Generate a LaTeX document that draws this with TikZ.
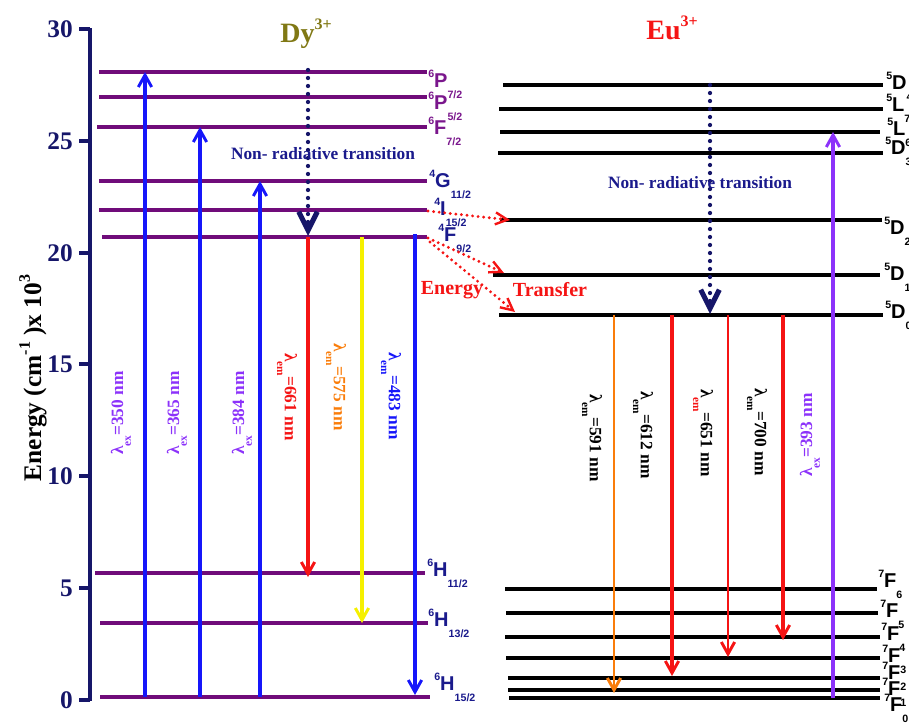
\documentclass[tikz,border=0pt]{standalone}
\usepackage{fontspec}
\setmainfont{Liberation Serif}
\setsansfont{Liberation Sans}
\usetikzlibrary{arrows.meta}
\definecolor{dyLevel}{RGB}{112,12,122}
\definecolor{dyTerm}{RGB}{122,22,140}
\definecolor{navyTerm}{RGB}{26,26,140}
\definecolor{axisNavy}{RGB}{22,22,105}
\definecolor{exBlue}{RGB}{22,22,250}
\definecolor{exViolet}{RGB}{140,50,250}
\definecolor{emRed}{RGB}{245,20,20}
\definecolor{emYellow}{RGB}{245,240,0}
\definecolor{emOrange}{RGB}{250,125,10}
\definecolor{dyOlive}{RGB}{128,120,20}
% term symbol  ^{2S+1}L_{J}
\newcommand{\termsym}[3]{{\sffamily\bfseries\fontsize{15}{15}\selectfont
  \raisebox{0.5em}{\fontsize{8}{8}\selectfont#1}#2\raisebox{-0.55em}{\fontsize{8}{8}\selectfont#3}}}
% wavelength label  lambda_{ex/em}=... nm
\newcommand{\wavelen}[2]{λ\raisebox{-0.45em}{\fontsize{8.5}{9}\selectfont#1}=#2 nm}
\begin{document}
\begin{tikzpicture}
% level scheme drawn on the pixel grid of the source figure
\def\pxsz{0.75pt}
\providecommand{\levelWidth}{2.4pt}
\providecommand{\arrowWidth}{2.6pt}
\begin{scope}[x=\pxsz, y=-\pxsz,
  dylevel/.style={draw=dyLevel, line width=\levelWidth},
  eulevel/.style={draw=black, line width=2.7pt},
  radiative/.style={line width=\arrowWidth, -{Straight Barb[length=9pt,width=10pt,line width=2.2pt]}},
  nonrad/.style={draw=axisNavy, line width=3.2pt, line cap=round, dash pattern=on 0pt off 6pt,
    -{Straight Barb[length=14pt,width=14pt,line width=3.8pt]}},
  etransfer/.style={draw=emRed, line width=2.4pt, line cap=round, dash pattern=on 0pt off 4.2pt,
    -{Straight Barb[length=9pt,width=9pt,line width=1.8pt]}},
  term/.style={anchor=base west, inner sep=0pt},
  wave/.style={inner sep=0pt, font=\fontsize{13}{13}\selectfont\bfseries},
  ticklabel/.style={anchor=east, inner sep=0pt, text=axisNavy, font=\fontsize{19}{19}\selectfont\bfseries}]
  \useasboundingbox (0,0) rectangle (909,726);
  \clip (0,0) rectangle (909,726);
  % Energy axis
  \begin{scope}[draw=axisNavy, line width=3.2pt]
    \draw (90,28) -- (90,701);
    \draw (79,29) -- (90,29);
    \draw (79,141) -- (90,141);
    \draw (79,253) -- (90,253);
    \draw (79,364) -- (90,364);
    \draw (79,476) -- (90,476);
    \draw (79,588) -- (90,588);
    \draw (79,700) -- (90,700);
  \end{scope}
  \node[ticklabel] (t30) at (73,29) {30};
  \node[ticklabel] (t25) at (73,141) {25};
  \node[ticklabel] (t20) at (73,253) {20};
  \node[ticklabel] (t15) at (73,364) {15};
  \node[ticklabel] (t10) at (73,476) {10};
  \node[ticklabel] (t5) at (73,588) {5};
  \node[ticklabel] (t0) at (73,700) {0};
  \node[rotate=90, inner sep=0pt, font=\fontsize{19}{19}\selectfont\bfseries] (ylab) at (33,378)
    {Energy (cm\raisebox{0.45em}{\fontsize{12}{12}\selectfont -1} )x 10\raisebox{0.45em}{\fontsize{12}{12}\selectfont 3}};
  % Ion titles
  \node[anchor=base, inner sep=0pt, text=dyOlive] (dytitle) at (306,42)
    {\fontsize{21}{22}\selectfont\bfseries Dy\raisebox{0.45em}{\fontsize{12}{12}\selectfont 3+}};
  \node[anchor=base, inner sep=0pt, text=emRed] (eutitle) at (672,39)
    {\fontsize{21}{22}\selectfont\bfseries Eu\raisebox{0.45em}{\fontsize{12}{12}\selectfont 3+}};
  % Dy levels
  \draw[dylevel] (99,72) -- (427,72);
  \draw[dylevel] (99,97) -- (427,97);
  \draw[dylevel] (97,127) -- (427,127);
  \draw[dylevel] (99,181) -- (427,181);
  \draw[dylevel] (99,210) -- (427,210);
  \draw[dylevel] (102,237) -- (427,237);
  \draw[dylevel] (95,573) -- (425,573);
  \draw[dylevel] (100,623) -- (428,623);
  \draw[dylevel] (100,697) -- (430,697);
  % Dy terms
  \node[term, text=dyTerm] (dyP72) at (428,87) {\termsym{6}{P}{7/2}};
  \node[term, text=dyTerm] (dyP52) at (428,109) {\termsym{6}{P}{5/2}};
  \node[term, text=dyTerm] (dyF72) at (428,134) {\termsym{6}{F}{7/2}};
  \node[term, text=navyTerm] (dyG112) at (429,187) {\termsym{4}{G}{11/2}};
  \node[term, text=navyTerm] (dyI152) at (434,215) {\termsym{4}{I}{15/2}};
  \node[term, text=navyTerm] (dyF92) at (438,241) {\termsym{4}{F}{9/2}};
  \node[term, text=navyTerm] (dyH112) at (427,576) {\termsym{6}{H}{11/2}};
  \node[term, text=navyTerm] (dyH132) at (428,626) {\termsym{6}{H}{13/2}};
  \node[term, text=navyTerm] (dyH152) at (434,690) {\termsym{6}{H}{15/2}};
  % Eu levels
  \draw[eulevel] (503,85) -- (883,85);
  \draw[eulevel] (499,109) -- (883,109);
  \draw[eulevel] (500,132) -- (880,132);
  \draw[eulevel] (498,153) -- (883,153);
  \draw[eulevel] (500,220) -- (882,220);
  \draw[eulevel] (493,275) -- (880,275);
  \draw[eulevel] (499,315) -- (883,315);
  \draw[eulevel] (505,589) -- (877,589);
  \draw[eulevel] (506,613) -- (878,613);
  \draw[eulevel] (505,637) -- (880,637);
  \draw[eulevel] (506,658) -- (880,658);
  \draw[eulevel] (508,678) -- (880,678);
  \draw[eulevel] (508,690) -- (880,690);
  \draw[eulevel] (509,698) -- (880,698);
  % Eu terms
  \node[term] (euD4) at (886,89) {\termsym{5}{D}{4}};
  \node[term] (euL7) at (886,111) {\termsym{5}{L}{7}};
  \node[term] (euL6) at (887,135) {\termsym{5}{L}{6}};
  \node[term] (euD3) at (885,154) {\termsym{5}{D}{3}};
  \node[term] (euD2) at (884,234) {\termsym{5}{D}{2}};
  \node[term] (euD1) at (884,280) {\termsym{5}{D}{1}};
  \node[term] (euD0) at (885,318) {\termsym{5}{D}{0}};
  \node[term] (euF6) at (878,587) {\termsym{7}{F}{6}};
  \node[term] (euF5) at (880,617) {\termsym{7}{F}{5}};
  \node[term] (euF4) at (881,640) {\termsym{7}{F}{4}};
  \node[term] (euF3) at (882,662) {\termsym{7}{F}{3}};
  \node[term] (euF2) at (882,679) {\termsym{7}{F}{2}};
  \node[term] (euF1) at (882,695) {\termsym{7}{F}{1}};
  \node[term] (euF0) at (884,711) {\termsym{7}{F}{0}};
  % Dy transitions
  \draw[radiative, exBlue] (145,697) -- (145,72);
  \draw[radiative, exBlue] (200,697) -- (200,127);
  \draw[radiative, exBlue] (260,697) -- (260,181);
  \draw[radiative, emRed] (308,237) -- (308,577);
  \draw[radiative, emYellow] (362,237) -- (362,623);
  \draw[radiative, exBlue] (415,234) -- (415,695);
  \draw[nonrad] (308,70) -- (308,236);
  \node[wave, rotate=90, text=exViolet] (ex350) at (121,413) {\wavelen{ex}{350}};
  \node[wave, rotate=90, text=exViolet] (ex365) at (177,413) {\wavelen{ex}{365}};
  \node[wave, rotate=90, text=exViolet] (ex384) at (242,413) {\wavelen{ex}{384}};
  \node[wave, rotate=-90, text=emRed] (em661) at (287,397) {\wavelen{em}{661}};
  \node[wave, rotate=-90, text=emOrange] (em575) at (336,387) {\wavelen{em}{575}};
  \node[wave, rotate=-90, text=exBlue] (em483) at (391,396) {\wavelen{em}{483}};
  \node[inner sep=0pt, text=navyTerm, font=\fontsize{13}{13}\selectfont\bfseries] (dynr) at (323,154) {Non- radiative transition};
  % Energy transfer
  \draw[etransfer] (428,211) -- (510,220);
  \draw[etransfer] (428,238) -- (504,273);
  \draw[etransfer] (430,242) -- (515,312);
  \node[inner sep=0pt, text=emRed, font=\fontsize{15}{15}\selectfont\bfseries] (etA) at (452,290) {Energy};
  \node[inner sep=0pt, text=emRed, font=\fontsize{15}{15}\selectfont\bfseries] (etB) at (550,290) {Transfer};
  % Eu transitions
  \draw[radiative, emOrange, line width=1.8pt] (614,315) -- (614,693);
  \draw[radiative, emRed] (672,315) -- (672,676);
  \draw[radiative, emRed, line width=1.8pt] (728,315) -- (728,657);
  \draw[radiative, emRed] (783,315) -- (783,640);
  \draw[radiative, exViolet] (833,698) -- (833,132);
  \draw[nonrad] (710,85) -- (710,314);
  \node[wave, rotate=-90] (em591) at (592,438) {\wavelen{em}{591}};
  \node[wave, rotate=-90] (em612) at (643,435) {\wavelen{em}{612}};
  \node[wave, rotate=-90] (em651) at (703,433) {\wavelen{\textcolor{emRed}{em}}{651}};
  \node[wave, rotate=-90] (em700) at (757,432) {\wavelen{em}{700}};
  \node[wave, rotate=90, text=exViolet] (ex393) at (810,435) {\wavelen{ex}{393}};
  \node[inner sep=0pt, text=navyTerm, font=\fontsize{13}{13}\selectfont\bfseries] (eunr) at (700,183) {Non- radiative transition};
\end{scope}
\end{tikzpicture}
\end{document}
